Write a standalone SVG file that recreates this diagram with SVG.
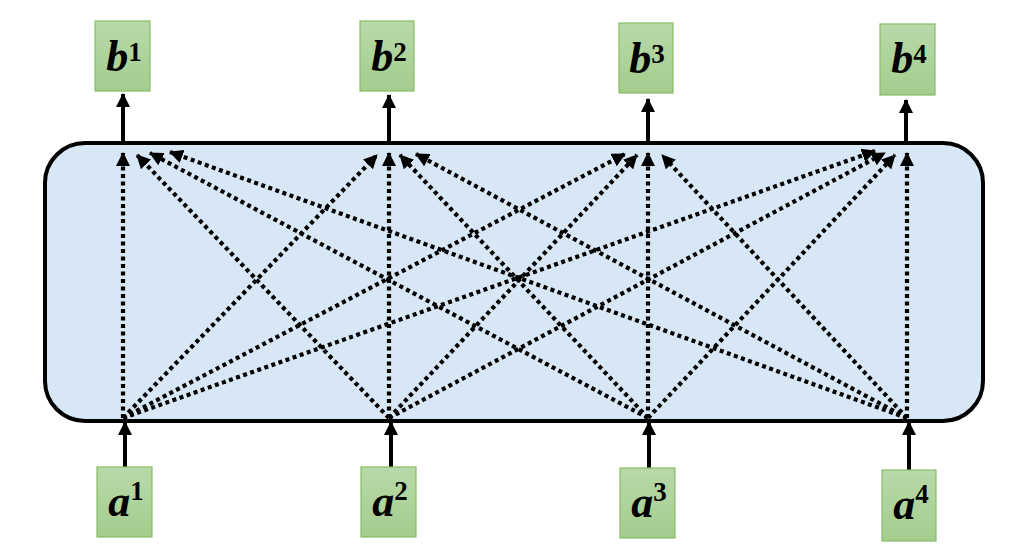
<svg xmlns="http://www.w3.org/2000/svg" width="1015" height="548" viewBox="0 0 1015 548">
<defs>
<linearGradient id="g" x1="0" y1="0" x2="0" y2="1"><stop offset="0" stop-color="#b9d9a9"/><stop offset="1" stop-color="#a3cd8d"/></linearGradient>
<marker id="dh" viewBox="0 0 14 14" refX="13" refY="7" markerWidth="14" markerHeight="14" markerUnits="userSpaceOnUse" orient="auto"><path d="M0,0 L14,7 L0,14 z" fill="#000"/></marker>
<marker id="sh" viewBox="0 0 14 14" refX="13" refY="7" markerWidth="14" markerHeight="14" markerUnits="userSpaceOnUse" orient="auto"><path d="M0,0 L14,7 L0,14 z" fill="#000"/></marker>
</defs>
<style>
.n rect{fill:url(#g);stroke:#86bd66;stroke-width:1.2}
.n text{font-family:"Liberation Serif",serif;font-weight:bold;font-size:44px;fill:#000}
.n tspan.s{font-size:27px;font-style:normal}
.m{font-style:italic}
.d{stroke:#000;stroke-width:4.2;stroke-dasharray:4 3.5;fill:none;marker-end:url(#dh)}
.a{stroke:#000;stroke-width:4;fill:none;marker-end:url(#sh)}
</style>
<rect width="1015" height="548" fill="#fff"/>
<rect id="panel" x="45" y="143" width="938" height="278" rx="40" ry="40" fill="#d8e7f6" stroke="#000" stroke-width="4"/>
<g id="connectors">
<line class="a" x1="123" y1="141" x2="123" y2="94"/>
<line class="a" x1="389" y1="141" x2="389" y2="95"/>
<line class="a" x1="648" y1="141" x2="648" y2="99"/>
<line class="a" x1="906" y1="141" x2="906" y2="100"/>
<line class="a" x1="125" y1="467" x2="125" y2="422"/>
<line class="a" x1="391" y1="467" x2="391" y2="422"/>
<line class="a" x1="649" y1="468" x2="649" y2="422"/>
<line class="a" x1="909" y1="470" x2="909" y2="422"/>
<line class="d" x1="123" y1="418" x2="123" y2="153"/>
<line class="d" x1="389" y1="418" x2="389" y2="153"/>
<line class="d" x1="648" y1="418" x2="648" y2="153"/>
<line class="d" x1="907" y1="418" x2="907" y2="153"/>
<line class="d" x1="123" y1="418" x2="377" y2="155"/>
<line class="d" x1="123" y1="418" x2="625" y2="154"/>
<line class="d" x1="123" y1="418" x2="875" y2="151"/>
<line class="d" x1="389" y1="418" x2="137" y2="155"/>
<line class="d" x1="389" y1="418" x2="637" y2="155"/>
<line class="d" x1="389" y1="418" x2="885" y2="153"/>
<line class="d" x1="648" y1="418" x2="150" y2="153"/>
<line class="d" x1="648" y1="418" x2="400" y2="155"/>
<line class="d" x1="648" y1="418" x2="895" y2="155"/>
<line class="d" x1="907" y1="418" x2="170" y2="152"/>
<line class="d" x1="907" y1="418" x2="416" y2="154"/>
<line class="d" x1="907" y1="418" x2="662" y2="155"/>
</g>
<g id="b1" class="n"><rect x="95" y="21" width="55" height="70"/><text x="124" y="71" text-anchor="middle"><tspan class="m">b</tspan><tspan class="s" dy="-10">1</tspan></text></g>
<g id="b2" class="n"><rect x="360" y="21" width="54" height="70"/><text x="389" y="71" text-anchor="middle"><tspan class="m">b</tspan><tspan class="s" dy="-10">2</tspan></text></g>
<g id="b3" class="n"><rect x="619" y="23" width="54" height="70"/><text x="647" y="73" text-anchor="middle"><tspan class="m">b</tspan><tspan class="s" dy="-10">3</tspan></text></g>
<g id="b4" class="n"><rect x="880" y="24" width="55" height="71"/><text x="909" y="73" text-anchor="middle"><tspan class="m">b</tspan><tspan class="s" dy="-10">4</tspan></text></g>
<g id="a1" class="n"><rect x="97" y="467" width="55" height="70"/><text x="126" y="516" text-anchor="middle"><tspan class="m">a</tspan><tspan class="s" dy="-16">1</tspan></text></g>
<g id="a2" class="n"><rect x="361" y="467" width="55" height="70"/><text x="390" y="516" text-anchor="middle"><tspan class="m">a</tspan><tspan class="s" dy="-16">2</tspan></text></g>
<g id="a3" class="n"><rect x="620" y="468" width="55" height="70"/><text x="649" y="517" text-anchor="middle"><tspan class="m">a</tspan><tspan class="s" dy="-16">3</tspan></text></g>
<g id="a4" class="n"><rect x="882" y="470" width="54" height="71"/><text x="911" y="519" text-anchor="middle"><tspan class="m">a</tspan><tspan class="s" dy="-16">4</tspan></text></g>
</svg>
